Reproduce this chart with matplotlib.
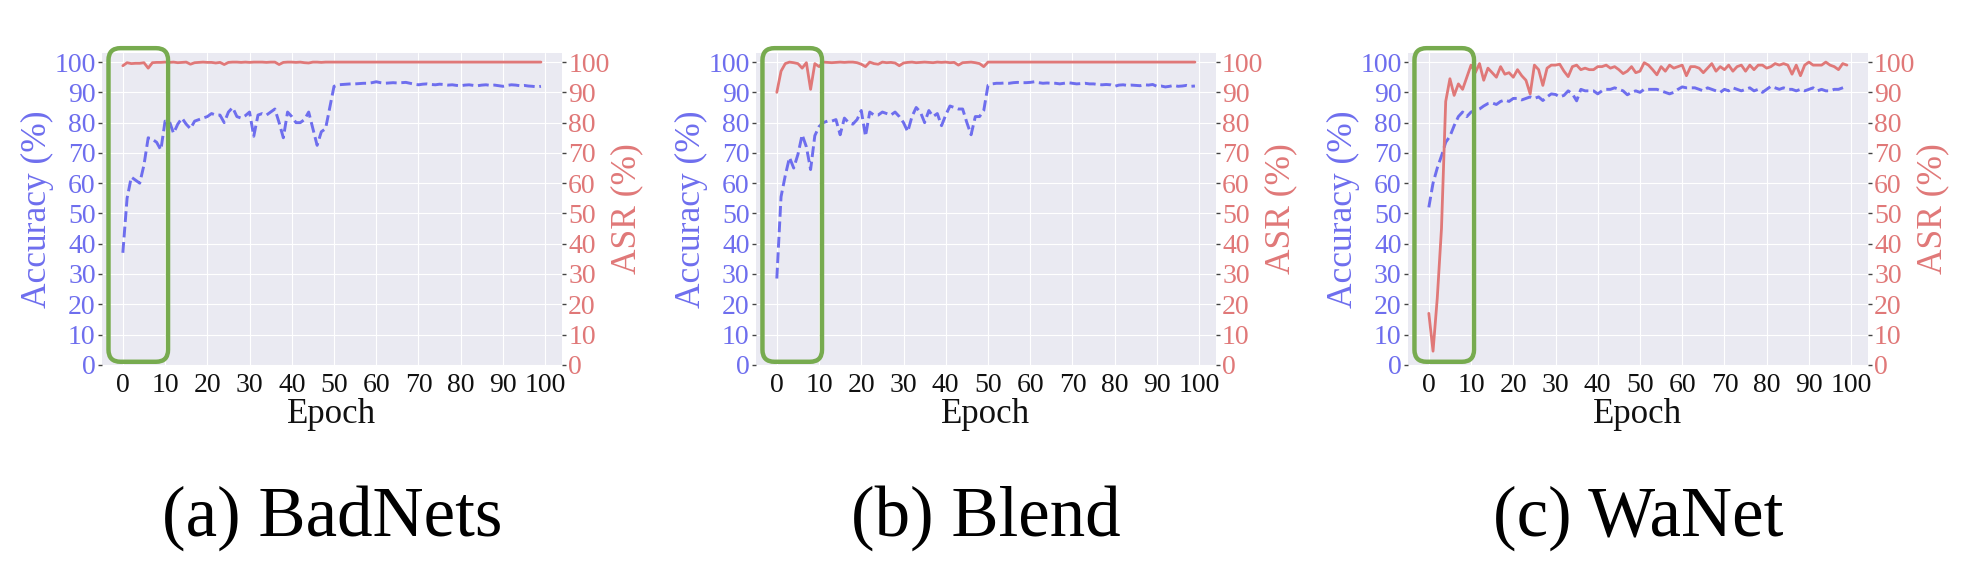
import matplotlib
matplotlib.use("Agg")
import matplotlib.pyplot as plt
from matplotlib.patches import FancyBboxPatch
import numpy as np
import seaborn as sns

sns.set_style("darkgrid")
plt.rcParams['font.family'] = ['Liberation Serif', 'DejaVu Serif']

ACC_COLOR = '#6E6EEE'
ASR_COLOR = '#E07878'
BOX_COLOR = '#77AB4F'

epochs = np.arange(100)

# (a) BadNets
badnets_acc = [37, 55, 62, 61, 60, 66, 75, 74.5, 73.5, 71, 80.5, 80.5, 76.5, 79.5, 81.5, 79.5,
               78, 80.5, 81, 81.5, 82, 83, 82.5, 82.5, 80, 83.5, 85, 82, 81.5, 82.3,
               83.5, 75.5, 82.5, 83, 82.5, 83.5, 84.5, 80, 75, 83.5, 82, 80, 80, 81,
               83.5, 78, 72.5, 77, 78, 85, 92, 92.5, 92.6, 92.7, 92.8, 92.8, 92.9, 93, 93, 93.2,
               93.5, 93.2, 93, 93.1, 93.2, 93.1, 93.2, 93.3, 93, 92.7, 92.5, 92.7, 92.8, 92.6, 92.5,
               92.7, 92.6, 92.4, 92.5, 92.3, 92.2, 92.4, 92.5, 92.3, 92.2, 92.4, 92.5, 92.3, 92.4, 92.2,
               92, 92.3, 92.5, 92.4, 92.2, 92.3, 92.1, 92, 91.8, 92]
badnets_asr = [98.8, 99.8, 99.5, 99.6, 99.6, 99.8, 98, 99.8, 99.9, 99.9, 100, 99.9, 100, 99.8, 99.9, 100,
               99.3, 99.8, 99.9, 100, 99.9, 99.9, 99.7, 99.9, 99.2, 99.9, 100, 100, 99.9, 100,
               99.9, 100, 100, 100, 99.9, 100, 100, 99.2, 99.9, 100, 100, 99.9, 100, 99.8,
               99.7, 100, 100, 99.9, 100, 100] + [100] * 50

# (b) Blend
blend_acc = [28.5, 55.5, 62.5, 68.5, 65, 69.5, 76, 72, 64.5, 75.7, 78.7, 80, 80.5, 80.5, 81, 76,
             81.5, 80, 79.5, 81, 84, 75.5, 83.5, 82.5, 82.5, 83.5, 83, 82.5, 83.5, 82,
             80, 77, 82, 85, 83.5, 80, 84, 82, 83, 79, 82.5, 85.5, 85, 84.5, 84.5,
             80, 76, 82, 82, 84, 92.3, 92.8, 93, 93, 93.1, 93, 93.2, 93.3, 93.2, 93.2,
             93.3, 93.5, 93.2, 93, 93.1, 93, 93, 92.8, 93, 93.2, 93, 92.8, 92.9, 93, 92.8,
             92.8, 92.6, 92.5, 92.6, 92.5, 92, 92.4, 92.5, 92.3, 92.4, 92.3, 92.2, 92.5, 92.4, 92.6,
             92, 92.1, 91.8, 92, 92.3, 92, 92.1, 92.3, 92, 92.1]
blend_asr = [90, 97, 99.5, 100, 99.8, 99.5, 98, 99.8, 91, 99.5, 98.5, 100, 99.9, 99.8, 99.9, 100,
             99.9, 100, 100, 99.8, 99.3, 98.5, 100, 99.5, 99.3, 100, 99.8, 99.9, 99.7, 98.8,
             99.7, 99.9, 100, 99.8, 99.9, 100, 99.9, 99.8, 100, 99.9, 100, 99.8, 99.9, 99,
             99.8, 99.9, 100, 99.8, 99.5, 98.5] + [100] * 50

# (c) WaNet
wanet_acc = [52, 60, 65, 69, 73.5, 75.5, 79, 82, 83.5, 82, 83.5, 84, 84.5, 85.5, 86.3, 86.5,
             86, 87, 87.5, 87, 88, 88, 87.5, 88, 88.5, 88, 88.5, 87.3, 88.5, 89.5,
             89.3, 88.5, 89, 90.5, 89.5, 87.2, 91, 90.5, 90.5, 90.5, 89.5, 90.5, 91, 91,
             91.5, 91, 90.5, 89.2, 90, 90.5, 90, 91, 91, 91, 91, 90.5, 90, 89.5, 90, 91,
             91.8, 91.5, 91.5, 91.5, 91, 90.5, 91.5, 91, 90.5, 90, 91, 90.5, 91.5, 91, 90.5,
             91, 91.5, 90.5, 91, 90, 91, 92, 91.5, 91, 91.5, 91, 91, 90.5, 91, 90.5,
             91, 91.5, 90.5, 91, 90.5, 90.5, 91, 91, 91.5, 92]
wanet_asr = [17, 4.5, 22, 45, 87, 94.5, 89, 92.8, 91, 95, 99, 96.5, 99.5, 94, 98, 96.5,
             95, 98.5, 96, 96.5, 95, 97.5, 95.5, 94, 89.5, 99, 97.5, 92.3, 98, 99,
             99, 99.3, 97, 95.2, 98.5, 99, 97.5, 98, 97.5, 97.5, 98.5, 98.5, 99, 98,
             98.5, 97.5, 96.2, 97, 98.5, 96.5, 97, 99.8, 99, 97.5, 95.8, 98.5, 97, 99, 98,
             98.5, 99, 95.5, 98.5, 98.5, 98, 96.5, 98, 99.5, 97, 98.5, 97.5, 99, 97, 98.5,
             99, 97, 99, 97.5, 99, 99, 98, 98.5, 99.5, 99, 99.5, 99, 96, 99, 95.5, 99,
             100, 99, 99, 99, 100, 99, 98.5, 97.5, 99.5, 99]

panels = [("(a) BadNets", badnets_acc, badnets_asr),
          ("(b) Blend", blend_acc, blend_asr),
          ("(c) WaNet", wanet_acc, wanet_asr)]

fig = plt.figure(figsize=(19.68, 5.70), dpi=100)
lefts = [0.0518, 0.3841, 0.7154]
width, bottom, height = 0.2337, 0.360, 0.547
ticks = np.arange(0, 101, 10)
ylim = (0, 103)

for left, (caption, acc, asr) in zip(lefts, panels):
    ax = fig.add_axes([left, bottom, width, height])
    ax2 = ax.twinx()
    ax.plot(epochs, acc, linestyle='--', color=ACC_COLOR, linewidth=2.1)
    ax2.plot(epochs, asr, linestyle='-', color=ASR_COLOR, linewidth=2.0)
    ax.set_xticks(ticks)
    ax.set_yticks(ticks)
    ax2.set_yticks(ticks)
    ax.set_ylim(*ylim)
    ax2.set_ylim(*ylim)
    ax2.grid(False)
    for a in (ax, ax2):
        for s in a.spines.values():
            s.set_visible(False)
    ax.tick_params(axis='y', labelcolor=ACC_COLOR, color='#444444', labelsize=20,
                   length=3, width=1, pad=1.5)
    ax.tick_params(axis='x', labelsize=20, labelcolor='#111111', length=0, pad=6)
    ax2.tick_params(axis='y', labelcolor=ASR_COLOR, color='#444444', labelsize=20,
                    length=3, width=1, pad=1.5)
    ax.set_xlabel('Epoch', fontsize=25, color='#111111')
    ax.set_ylabel('Accuracy (%)', fontsize=25.5, color=ACC_COLOR)
    ax2.set_ylabel('ASR (%)', fontsize=25.5, color=ASR_COLOR)
    ax.xaxis.set_label_coords(0.5, -0.105)
    ax.yaxis.set_label_coords(-0.104, 0.5)
    ax2.yaxis.set_label_coords(1.106, 0.5)

    # green highlight box around the first epochs
    fig.canvas.draw()
    bb = ax.get_window_extent()
    xl = ax.get_xlim()
    xpp = (xl[1] - xl[0]) / bb.width
    ypp = (ylim[1] - ylim[0]) / bb.height
    box = FancyBboxPatch((-3.4, 1.0), 14.1, 103.6,
                         boxstyle="round,pad=0,rounding_size=%f" % (12 * xpp),
                         mutation_aspect=ypp / xpp,
                         fill=False, edgecolor=BOX_COLOR, linewidth=3.2,
                         clip_on=False, zorder=10)
    ax2.add_patch(box)

    fig.text(left + width / 2, 0.091, caption, ha='center', va='center',
             fontsize=51, color='black')

fig.savefig("out.png", dpi=100)
